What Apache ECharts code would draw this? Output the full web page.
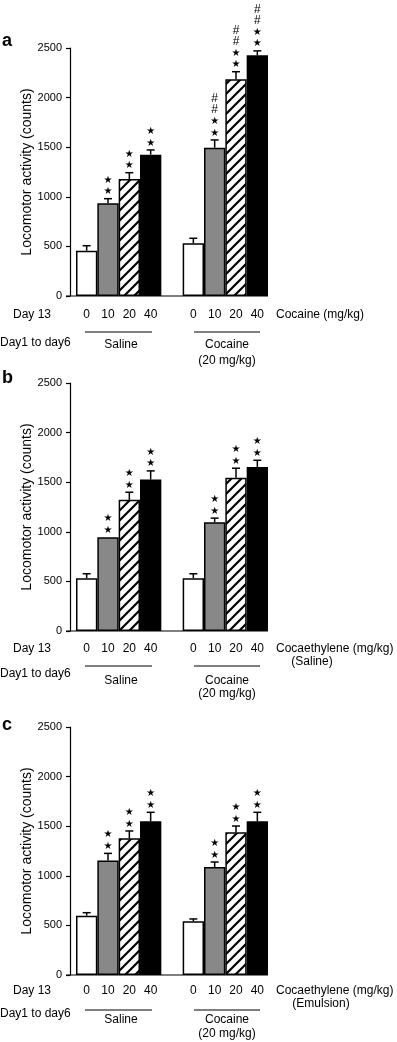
<!DOCTYPE html>
<html>
<head>
<meta charset="utf-8">
<script src="https://cdn.jsdelivr.net/npm/echarts@6/dist/echarts.min.js"></script>
<style>
  html, body { margin: 0; padding: 0; background: #fff; }
  #chart { width: 397px; height: 1042px; }
</style>
</head>
<body>
<div id="chart"></div>
<script>
// dose labels on the x axis, '' is the gap between the two pretreatment groups
const doses = ['0', '10', '20', '40', '', '0', '10', '20', '40']

// panel a: cocaine challenge
const aSaline = [457, 934, 1179, 1425]
const aSalineErr = [50, 47, 64, 47]
const aCocaine = [531, 1495, 2184, 2426]
const aCocaineErr = [51, 78, 77, 45]
const aSalineMarks = ['', '**', '**', '**']
const aCocaineMarks = ['', '**##', '**##', '**##']

// panel b: cocaethylene in saline
const bSaline = [533, 946, 1322, 1527]
const bSalineErr = [44, 0, 77, 87]
const bCocaine = [533, 1097, 1544, 1654]
const bCocaineErr = [44, 41, 97, 67]
const bSalineMarks = ['', '**', '**', '**']
const bCocaineMarks = ['', '**', '**', '**']

// panel c: cocaethylene in emulsion
const cSaline = [598, 1153, 1378, 1549]
const cSalineErr = [30, 73, 74, 91]
const cCocaine = [541, 1089, 1438, 1549]
const cCocaineErr = [24, 50, 64, 91]
const cSalineMarks = ['', '**', '**', '**']
const cCocaineMarks = ['', '**', '**', '**']

const yTicks = [0, 2500, 500]  // min, max, interval

const FONT = '"Liberation Sans", Arial, sans-serif'

// hatch pattern for the 20 mg/kg bars
const hatch = document.createElement('canvas')
hatch.width = 10
hatch.height = 10
const hc = hatch.getContext('2d')
hc.fillStyle = '#fff'
hc.fillRect(0, 0, 10, 10)
hc.strokeStyle = '#000'
hc.lineWidth = 2.2
hc.beginPath()
hc.moveTo(-5, 5); hc.lineTo(5, -5)
hc.moveTo(0, 10); hc.lineTo(10, 0)
hc.moveTo(5, 15); hc.lineTo(15, 5)
hc.stroke()

const barFills = ['#ffffff', '#888888', { image: hatch, repeat: 'repeat' }, '#000000']

const panels = [
  {
    letter: 'a', top: 48, sal: aSaline, salErr: aSalineErr, coc: aCocaine, cocErr: aCocaineErr,
    salMarks: aSalineMarks, cocMarks: aCocaineMarks,
    unit: 'Cocaine (mg/kg)', unit2: null,
    off: { letter: -7, lab: 19, unit2: 0, line: 36, day: 47, grp: 49, grp2: 65 }
  },
  {
    letter: 'b', top: 383, sal: bSaline, salErr: bSalineErr, coc: bCocaine, cocErr: bCocaineErr,
    salMarks: bSalineMarks, cocMarks: bCocaineMarks,
    unit: 'Cocaethylene (mg/kg)', unit2: '(Saline)', unit2X: 312,
    off: { letter: -5, lab: 18, unit2: 31, line: 35, day: 43, grp: 50, grp2: 63 }
  },
  {
    letter: 'c', top: 727, sal: cSaline, salErr: cSalineErr, coc: cCocaine, cocErr: cCocaineErr,
    salMarks: cSalineMarks, cocMarks: cCocaineMarks,
    unit: 'Cocaethylene (mg/kg)', unit2: '(Emulsion)', unit2X: 321,
    off: { letter: -2, lab: 16, unit2: 29, line: 35, day: 39, grp: 45, grp2: 59 }
  }
]

const H = 248
const LEFT = 76
const W = 192

const chart = echarts.init(document.getElementById('chart'), null, { renderer: 'canvas' })

const grids = []
const xAxes = []
const yAxes = []
const series = []
const graphics = []

function txt(text, x, y, opts) {
  graphics.push({
    type: 'text',
    x: x, y: y,
    style: Object.assign({
      text: text, fill: '#000', font: '12px ' + FONT,
      textAlign: 'left', textVerticalAlign: 'middle'
    }, opts || {})
  })
}
function hline(x1, x2, y) {
  graphics.push({
    type: 'line',
    shape: { x1: x1, y1: y, x2: x2, y2: y },
    style: { stroke: '#000', lineWidth: 1.2 }
  })
}

panels.forEach((p, i) => {
  const B = p.top + H
  grids.push({ left: LEFT, top: p.top, width: W, height: H })
  xAxes.push({
    gridIndex: i,
    type: 'category',
    data: doses,
    boundaryGap: true,
    axisLine: { show: false },
    axisTick: { show: false },
    axisLabel: { color: '#000', fontSize: 12, fontFamily: FONT, margin: p.off.lab - 6, interval: 0 }
  })
  yAxes.push({
    gridIndex: i,
    type: 'value',
    min: yTicks[0], max: yTicks[1], interval: yTicks[2],
    offset: 6,
    name: 'Locomotor activity (counts)',
    nameLocation: 'middle',
    nameGap: 36,
    nameMoveOverlap: false,
    nameTextStyle: { color: '#000', fontSize: 14, fontFamily: FONT },
    axisLine: { show: true, lineStyle: { color: '#000', width: 1.2 } },
    axisTick: { show: true, length: 4, lineStyle: { color: '#000', width: 1.2 } },
    axisLabel: {
      color: '#000', fontSize: 11, fontFamily: FONT, margin: 8, padding: [6, 0, 0, 0],
      formatter: v => String(v)
    },
    splitLine: { show: false }
  })

  // bars
  const vals = [...p.sal, null, ...p.coc]
  const barData = vals.map((v, k) => {
    if (v === null) return '-'
    const s = k < 4 ? k : k - 5
    return { value: v, itemStyle: { color: barFills[s], borderColor: '#000', borderWidth: 1.5 } }
  })
  series.push({
    type: 'bar',
    xAxisIndex: i, yAxisIndex: i,
    barCategoryGap: '0%',
    data: barData,
    silent: true
  })

  // error bars and significance marks
  const entries = []
  p.sal.forEach((v, k) => entries.push({ idx: k, v: v, e: p.salErr[k], m: p.salMarks[k] }))
  p.coc.forEach((v, k) => entries.push({ idx: k + 5, v: v, e: p.cocErr[k], m: p.cocMarks[k] }))
  series.push({
    type: 'custom',
    xAxisIndex: i, yAxisIndex: i,
    z: 5,
    silent: true,
    data: entries.map(d => [d.idx, d.v, d.e]),
    renderItem: function (params, api) {
      const d = entries[params.dataIndex]
      const base = api.coord([api.value(0), api.value(1)])
      const tip = api.coord([api.value(0), api.value(1) + api.value(2)])
      const ch = []
      if (d.e > 0) {
        ch.push({ type: 'line', shape: { x1: base[0], y1: base[1], x2: tip[0], y2: tip[1] }, style: { stroke: '#000', lineWidth: 1.5 } })
        ch.push({ type: 'line', shape: { x1: tip[0] - 4, y1: tip[1], x2: tip[0] + 4, y2: tip[1] }, style: { stroke: '#000', lineWidth: 1.5 } })
      }
      let y = tip[1] - 7
      for (const c of d.m) {
        ch.push({
          type: 'text',
          x: tip[0], y: y,
          style: c === '*'
            ? { text: '★', fill: '#000', font: '10px "DejaVu Sans"', textAlign: 'center', textVerticalAlign: 'middle' }
            : { text: '#', fill: '#000', font: '12px ' + FONT, textAlign: 'center', textVerticalAlign: 'middle' }
        })
        y -= 11.5
      }
      return { type: 'group', children: ch }
    }
  })

  // labels round the panel
  txt(p.letter, 2, p.top + p.off.letter, { font: 'bold 18px ' + FONT })
  hline(66, LEFT + W, B)
  txt('Day 13', 13, B + p.off.lab)
  txt(p.unit, 276, B + p.off.lab)
  if (p.unit2) txt(p.unit2, p.unit2X, B + p.off.unit2, { textAlign: 'center' })
  hline(85, 152, B + p.off.line)
  hline(194, 260, B + p.off.line)
  txt('Day1 to day6', 0, B + p.off.day)
  txt('Saline', 121, B + p.off.grp, { textAlign: 'center' })
  txt('Cocaine', 227, B + p.off.grp, { textAlign: 'center' })
  txt('(20 mg/kg)', 227, B + p.off.grp2, { textAlign: 'center' })
})

chart.setOption({
  animation: false,
  backgroundColor: '#fff',
  grid: grids,
  xAxis: xAxes,
  yAxis: yAxes,
  series: series,
  graphic: graphics
})
</script>
</body>
</html>
